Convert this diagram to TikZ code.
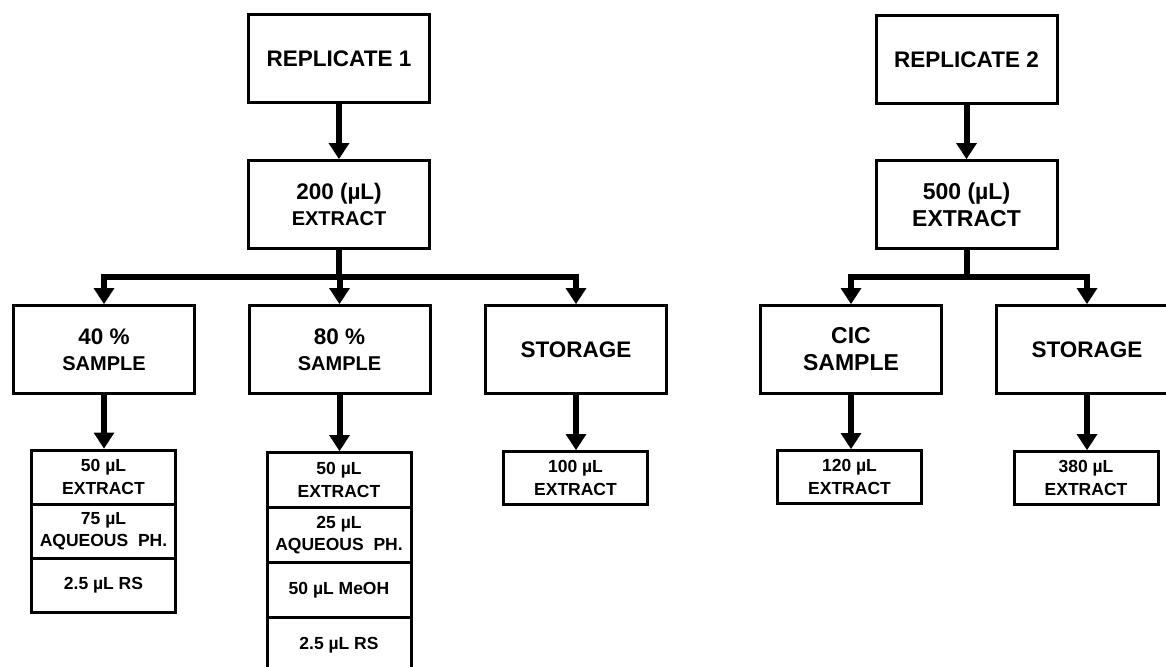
\documentclass[tikz,border=0pt]{standalone}
\usepackage{fontspec}
\setmainfont{Liberation Sans}
\usetikzlibrary{arrows.meta}
\begin{document}
\begin{tikzpicture}[x=1pt,y=-1pt,
  box/.style={draw,line width=3pt,inner sep=0pt,align=center},
  bigbox/.style={box,minimum width=181pt,minimum height=88pt,font=\fontsize{22.5}{26}\selectfont\bfseries},
  smallbox/.style={box,minimum width=144pt,minimum height=53pt,font=\fontsize{17.5}{22.5}\selectfont\bfseries},
  cell/.style={box,minimum width=144pt,minimum height=54pt,font=\fontsize{17.5}{22.5}\selectfont\bfseries},
  cellb/.style={cell,minimum height=55pt},
  shaft/.style={line width=6pt},
  arr/.style={line width=6pt,-{Triangle[width=21pt,length=16pt,line width=0pt]}}]
\useasboundingbox[fill=white] (0,0) rectangle (1166,666);

% ---------------- Replicate 1 ----------------
\node[bigbox] (r1) at (339,59) {REPLICATE 1};
\node[bigbox] (e1) at (339,204.5) {200 (µL)\\{\fontsize{20}{25}\selectfont EXTRACT}};
\coordinate (b1) at (339,277);

\node[bigbox] (s40) at (104,349.5) {40 \%\\{\fontsize{20}{25}\selectfont SAMPLE}};
\node[bigbox] (s80) at (339.5,349.5) {80 \%\\{\fontsize{20}{25}\selectfont SAMPLE}};
\node[bigbox] (st1) at (576,349.5) {STORAGE};

\node[cell] (c1) at (103.5,477) {50 µL\\EXTRACT};
\node[cell] (c2) at (103.5,531) {75 µL\\AQUEOUS\ \ PH.};
\node[cell] (c3) at (103.5,585) {2.5 µL RS};

\node[cellb] (d1) at (339,480) {50 µL\\EXTRACT};
\node[cellb] (d2) at (339,535) {25 µL\\AQUEOUS\ \ PH.};
\node[cellb] (d3) at (339,590) {50 µL MeOH};
\node[cellb] (d4) at (339,645) {2.5 µL RS};

\node[smallbox] (x100) at (575.5,478) {100 µL\\EXTRACT};

\draw[arr] (r1.south) -- (e1.north);
\draw[shaft] (e1.south) -- (b1);
\draw[arr] (b1) -| (s40.north);
\draw[arr] (b1) -| (s80.north);
\draw[arr] (b1) -| (st1.north);
\draw[arr] (s40.south) -- (s40.south |- c1.north);
\draw[arr] (s80.south) -- (s80.south |- d1.north);
\draw[arr] (st1.south) -- (st1.south |- x100.north);

% ---------------- Replicate 2 ----------------
\node[bigbox] (r2) at (966.5,59.5) {REPLICATE 2};
\node[bigbox,font=\fontsize{23}{27}\selectfont\bfseries] (e2) at (966.5,204.5) {500 (µL)\\EXTRACT};
\coordinate (b2) at (966.5,277);

\node[bigbox,font=\fontsize{23}{27}\selectfont\bfseries] (cic) at (851,349.5) {CIC\\SAMPLE};
\node[bigbox] (st2) at (1087,349.5) {STORAGE};

\node[smallbox] (x120) at (849.5,477) {120 µL\\EXTRACT};
\node[smallbox] (x380) at (1086,478) {380 µL\\EXTRACT};

\draw[arr] (r2.south) -- (e2.north);
\draw[shaft] (e2.south) -- (b2);
\draw[arr] (b2) -| (cic.north);
\draw[arr] (b2) -| (st2.north);
\draw[arr] (cic.south) -- (cic.south |- x120.north);
\draw[arr] (st2.south) -- (st2.south |- x380.north);
\end{tikzpicture}
\end{document}
